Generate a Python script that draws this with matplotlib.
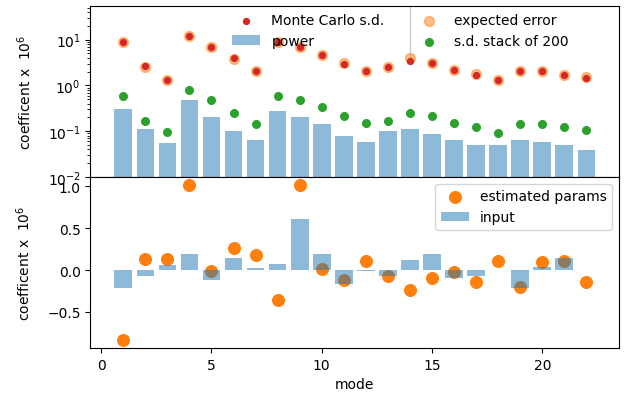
import numpy as np
import matplotlib
matplotlib.use("Agg")
from matplotlib import pyplot as plt

modes = np.arange(1, 23)

# top panel: standard deviations (log scale)
mc_sd = [8.7, 2.6, 1.3, 12.2, 7.0, 3.9, 2.1, 8.7, 7.0, 4.7, 3.0,
         2.1, 2.5, 3.5, 3.1, 2.2, 1.7, 1.3, 2.1, 2.1, 1.7, 1.47]
expected_err = [8.7, 2.5, 1.3, 12.0, 7.0, 3.7, 2.1, 9.0, 7.0, 4.7, 3.1,
                2.1, 2.5, 3.9, 3.1, 2.2, 1.75, 1.3, 2.1, 2.1, 1.7, 1.5]
sd_stack = [0.59, 0.167, 0.098, 0.81, 0.47, 0.25, 0.14, 0.59, 0.47, 0.34, 0.21,
            0.15, 0.167, 0.25, 0.21, 0.15, 0.124, 0.089, 0.14, 0.14, 0.124, 0.104]
power = [0.305, 0.11, 0.054, 0.49, 0.204, 0.10, 0.063, 0.28, 0.204, 0.14, 0.079,
         0.058, 0.10, 0.11, 0.086, 0.063, 0.049, 0.049, 0.063, 0.058, 0.049, 0.039]
# one error bar that runs off the top of the panel
outlier_mode = 14
outlier_upper = 200.0

# bottom panel: input vs estimated coefficients
input_params = [-0.21, -0.074, 0.061, 0.196, -0.114, 0.139, 0.025, 0.078, 0.605, 0.196, -0.17,
                -0.01, -0.074, 0.118, 0.196, -0.094, -0.074, 0.003, -0.21, 0.037, 0.139, 0.0]
est_params = [-0.837, 0.131, 0.131, 1.02, -0.008, 0.266, 0.184, -0.355, 1.02, 0.008, -0.12,
              0.11, -0.07, -0.237, -0.10, -0.025, -0.143, 0.11, -0.204, 0.094, 0.11, -0.143]

fig = plt.figure(figsize=(6.28, 4.02), dpi=100)
ax1 = fig.add_subplot(2, 1, 1)
ax2 = fig.add_subplot(2, 1, 2, sharex=ax1)
fig.subplots_adjust(left=0.144, right=0.986, top=0.983, bottom=0.132, hspace=0)

i14 = outlier_mode - 1
ax1.errorbar([outlier_mode], [expected_err[i14]],
             yerr=[[0], [outlier_upper - expected_err[i14]]],
             fmt='none', ecolor='0.8', lw=1, zorder=1)
h_exp = ax1.scatter(modes, expected_err, s=50, color='C1', alpha=0.5, label='expected error')
h_mc = ax1.scatter(modes, mc_sd, s=18, color='C3', label='Monte Carlo s.d.')
h_sd = ax1.scatter(modes, sd_stack, s=30, color='C2', label='s.d. stack of 200')
h_pw = ax1.bar(modes, power, alpha=0.5, color='C0', label='power')
ax1.set_yscale('log')
ax1.set_ylim(1e-2, 55)
ax1.set_ylabel(r'coefficent x  $10^6$', labelpad=10)
ax1.tick_params(axis='x', bottom=False, labelbottom=False)
ax1.legend([h_mc, h_pw, h_exp, h_sd],
           ['Monte Carlo s.d.', 'power', 'expected error', 's.d. stack of 200'],
           ncol=2, frameon=False, loc='upper left', bbox_to_anchor=(0.245, 1.03),
           columnspacing=2.2, handletextpad=0.8, labelspacing=0.5)

h_est = ax2.scatter(modes, est_params, s=70, color='C1', label='estimated params')
h_in = ax2.bar(modes, input_params, alpha=0.5, color='C0', label='input')
ax2.set_ylabel(r'coefficent x  $10^6$', labelpad=10)
ax2.set_xlabel('mode')
ax2.set_xticks([0, 5, 10, 15, 20])
ax2.legend(loc='upper right')

plt.savefig('out.png')
